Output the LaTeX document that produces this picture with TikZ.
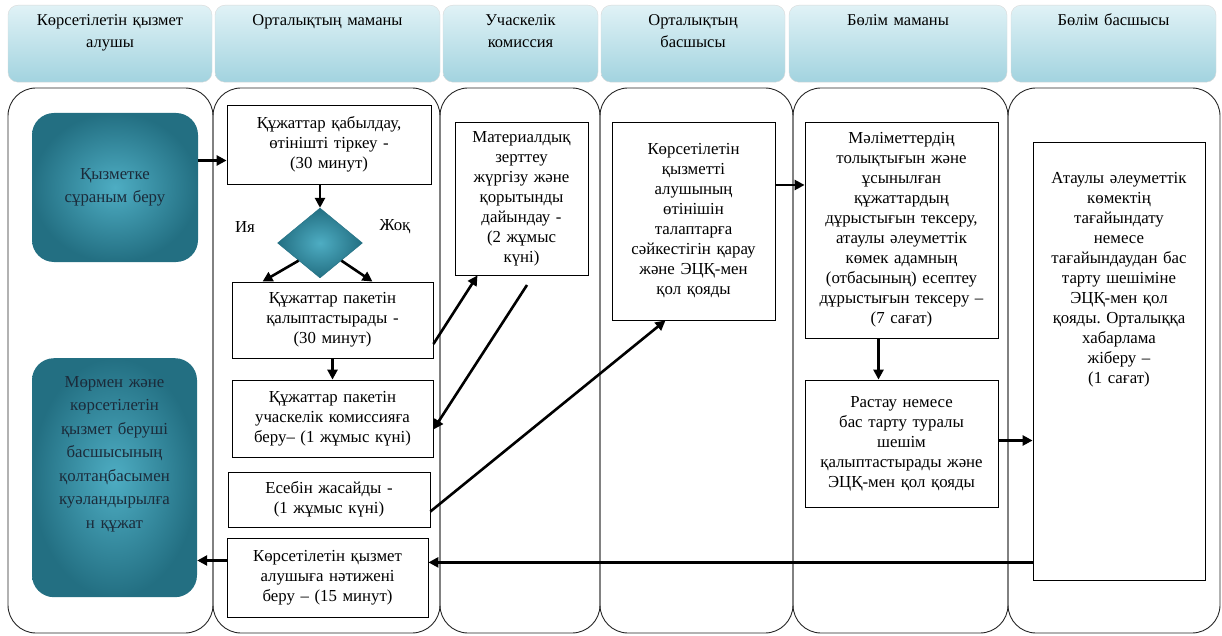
\documentclass[tikz,border=0pt]{standalone}
\usepackage{fontspec}
\setmainfont{Liberation Serif}
\usetikzlibrary{shapes.geometric,arrows.meta}
\definecolor{headtop}{HTML}{E0F2F6}
\definecolor{headbot}{HTML}{A2D3DF}
\definecolor{tealmid}{HTML}{4EADC3}
\definecolor{tealdark}{HTML}{236F82}
\definecolor{tealtext}{HTML}{1B2B3A}

\begin{document}
\frenchspacing
\begin{tikzpicture}[x=1pt, y=-1pt, >={Triangle[length=10pt,width=10pt]},
	font=\fontsize{16.8}{20}\selectfont,
	lane/.style={draw=black!85, line width=0.9pt, rounded corners=28pt},
	head/.style={draw=black!15, rounded corners=10pt, top color=headtop, bottom color=headbot, anchor=north, align=center, inner xsep=3pt, inner ysep=8pt, text height=12pt, text depth=49pt, font=\fontsize{16.5}{22}\selectfont},
	box/.style={draw, line width=0.8pt, align=center, inner xsep=3pt, inner ysep=2pt},
	act/.style={rounded corners=22pt, inner color=tealmid, outer color=tealdark, text=tealtext, align=center, inner sep=4pt, font=\fontsize{16.8}{23.5}\selectfont},
	dia/.style={diamond, draw=tealdark, inner color=tealmid, outer color=tealdark, minimum width=85pt, minimum height=70pt, inner sep=0pt},
	arr/.style={->, line width=2.6pt}]
	\useasboundingbox (0,0) rectangle (1222,636);

	% lanes
	\draw[lane] (8,88) rectangle (213,633);
	\draw[lane] (213,88) rectangle (440,633);
	\draw[lane] (440,88) rectangle (600,633);
	\draw[lane] (600,88) rectangle (793,633);
	\draw[lane] (793,88) rectangle (1008,633);
	\draw[lane] (1008,88) rectangle (1220,633);

	% headers
	\node[head, text width=198pt] (h1) at (110,5) {Көрсетілетін қызмет\\алушы};
	\node[head, text width=219pt] (h2) at (327.5,5) {Орталықтың маманы};
	\node[head, text width=149pt] (h3) at (520.5,5) {Учаскелік\\комиссия};
	\node[head, text width=178pt] (h4) at (693,5) {Орталықтың\\басшысы};
	\node[head, text width=212pt] (h5) at (898,5) {Бөлім маманы};
	\node[head, text width=199pt] (h6) at (1113.5,5) {Бөлім басшысы};

	% steps
	\node[act, text width=158pt, minimum height=149pt] (t1) at (115,187.5) {Қызметке\\сұраным беру};
	\node[act, text width=157pt, text height=25pt, text depth=206pt, anchor=north] (t2) at (114.5,358) {Мөрмен және\\көрсетілетін\\қызмет беруші\\басшысының\\қолтаңбасымен\\куәландырылға\\н құжат};
	\node[box, text width=198pt, minimum height=79pt] (a) at (329,144.5) {Құжаттар қабылдау,\\өтінішті тіркеу -\\(30 минут)};
	\node[dia] (dec) at (320,243) {};
	\node (yes) at (245,227) {Ия};
	\node (no) at (395,227) {Жоқ};
	\node[box, text width=195pt, minimum height=76pt] (b) at (332.5,320) {Құжаттар пакетін\\қалыптастырады -\\(30 минут)};
	\node[box, text width=195pt, minimum height=77pt] (c) at (332.5,418.5) {Құжаттар пакетін\\учаскелік комиссияға\\беру– (1 жұмыс күні)};
	\node[box, text width=196pt, minimum height=55pt] (d) at (329,499.5) {Есебін жасайды -\\(1 жұмыс күні)};
	\node[box, text width=195pt, minimum height=79pt] (e) at (327.5,577.5) {Көрсетілетін қызмет\\алушыға нәтижені\\беру – (15 минут)};
	\node[box, text width=127pt, minimum height=153pt] (f) at (521.5,198.5) {Материалдық\\зерттеу\\жүргізу және\\қорытынды\\дайындау -\\(2 жұмыс\\күні)};
	\node[box, text width=157pt, minimum height=198pt] (g) at (693.5,221) {Көрсетілетін\\қызметті\\алушының\\өтінішін\\талаптарға\\сәйкестігін қарау\\және ЭЦҚ-мен\\қол қояды};
	\node[box, text width=187pt, minimum height=216pt] (h) at (901.5,230) {Мәліметтердің\\толықтығын және\\ұсынылған\\құжаттардың\\дұрыстығын тексеру,\\атаулы әлеуметтік\\көмек адамның\\(отбасының) есептеу\\дұрыстығын тексеру –\\(7 сағат)};
	\node[box, text width=187pt, minimum height=127pt] (i) at (901.5,443.5) {Растау немесе\\бас тарту туралы\\шешім\\қалыптастырады және\\ЭЦҚ-мен қол қояды};
	\node[box, text width=166pt, text height=37pt, text depth=393pt, inner ysep=4pt, anchor=north] (j) at (1119,142) {Атаулы әлеуметтік\\көмектің\\тағайындату\\немесе\\тағайындаудан бас\\тарту шешіміне\\ЭЦҚ-мен қол\\қояды. Орталыққа\\хабарлама\\жіберу –\\(1 сағат)};

	% arrows
	\coordinate (fret) at (527,285);
	\draw[arr] ([yshift=27pt]t1.east) -- ([yshift=27pt]t1.east -| a.west);
	\draw[arr] (a.south -| dec) -- (dec.north);
	\draw[arr] (dec.south west) -- ([xshift=-70pt]b.north);
	\draw[arr] (dec.south east) -- ([xshift=40pt]b.north);
	\draw[arr] (b.south) -- (c.north);
	\draw[arr] ([yshift=-24pt]b.east) -- ([xshift=-44pt]f.south);
	\draw[arr] (fret) -- ([yshift=-11pt]c.east);
	\draw[arr] ([yshift=-12pt]d.east) -- ([xshift=-28pt]g.south);
	\draw[arr] ([yshift=36pt]g.east) -- ([yshift=36pt]g.east -| h.west);
	\draw[arr] ([xshift=-23pt]h.south) -- ([xshift=-23pt]i.north);
	\draw[arr] ([yshift=3pt]i.east) -- ([yshift=3pt]i.east -| j.west);
	\draw[arr] ([yshift=-201pt]j.west) -- ([yshift=-201pt]j.west -| e.east);
	\draw[arr] ([yshift=17pt]e.west) -- ([yshift=17pt]e.west -| t2.east);
\end{tikzpicture}
\end{document}
